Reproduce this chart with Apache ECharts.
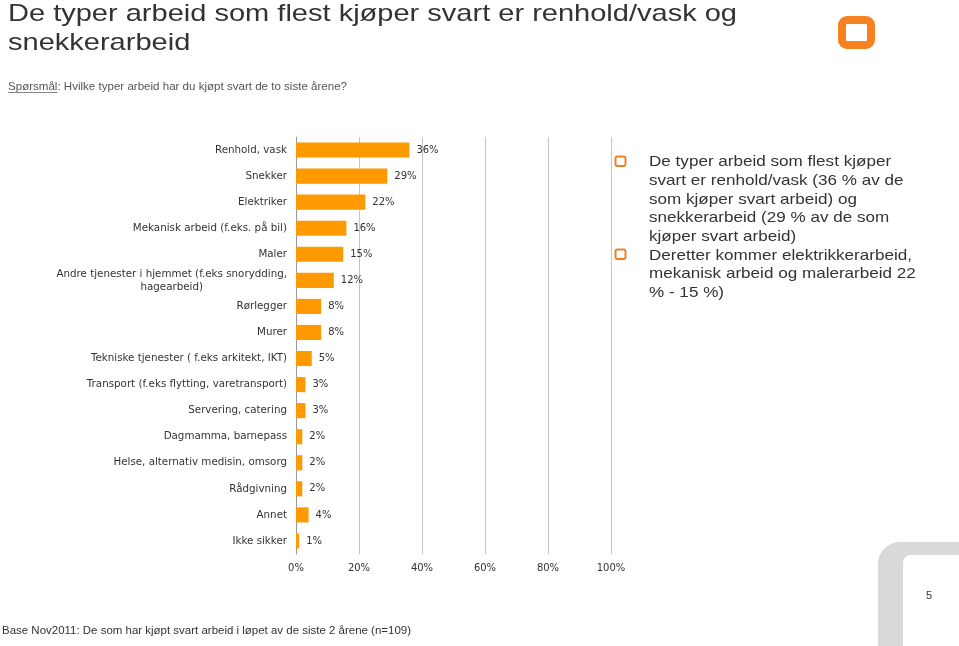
<!DOCTYPE html>
<html>
<head>
<meta charset="utf-8">
<script src="https://cdn.jsdelivr.net/npm/echarts@6/dist/echarts.min.js"></script>
<style>
html,body{margin:0;padding:0;background:#fff;}
#c{width:959px;height:646px;}
</style>
</head>
<body>
<div id="c"></div>
<script>
const categories = [
  "Renhold, vask",
  "Snekker",
  "Elektriker",
  "Mekanisk arbeid (f.eks. på bil)",
  "Maler",
  "Andre tjenester i hjemmet (f.eks snorydding,\nhagearbeid)",
  "Rørlegger",
  "Murer",
  "Tekniske tjenester ( f.eks arkitekt, IKT)",
  "Transport (f.eks flytting, varetransport)",
  "Servering, catering",
  "Dagmamma, barnepass",
  "Helse, alternativ medisin, omsorg",
  "Rådgivning",
  "Annet",
  "Ikke sikker"
];
const values = [36, 29, 22, 16, 15, 12, 8, 8, 5, 3, 3, 2, 2, 2, 4, 1];
const xTicks = [0, 20, 40, 60, 80, 100];

const titleLines = [
  "De typer arbeid som flest kjøper svart er renhold/vask og",
  "snekkerarbeid"
];
const subtitleLabel = "Spørsmål";
const subtitleText = ": Hvilke typer arbeid har du kjøpt svart de to siste årene?";
const bulletLines = [
  "De typer arbeid som flest kjøper",
  "svart er renhold/vask (36 % av de",
  "som kjøper svart arbeid) og",
  "snekkerarbeid (29 % av de som",
  "kjøper svart arbeid)",
  "Deretter kommer elektrikkerarbeid,",
  "mekanisk arbeid og malerarbeid 22",
  "% - 15 %)"
];
const footer = "Base Nov2011: De som har kjøpt svart arbeid i løpet av de siste 2 årene (n=109)";
const pageNo = "5";

const chart = echarts.init(document.getElementById('c'), null, {renderer: 'canvas'});
const axisFont = 'Tahoma, "DejaVu Sans", Verdana, sans-serif';
const textFamily = '"Liberation Sans", Arial, Helvetica, sans-serif';

const mctx = document.createElement('canvas').getContext('2d');
function measure(text, size) {
  mctx.font = size + 'px ' + textFamily;
  return mctx.measureText(text).width;
}
// horizontal stretch so that wide-tracked source text keeps its width
function fitScale(text, size, target) { return target / measure(text, size); }

function txt(x, baseline, text, size, color, sx) {
  return {type: 'text', x: x, y: baseline - 0.86 * size, scaleX: sx || 1,
    style: {text: text, fontSize: size, fontFamily: textFamily, fill: color,
      textVerticalAlign: 'top', textAlign: 'left'}};
}

const graphics = [];
const tS = fitScale(titleLines[0], 24, 729);
titleLines.forEach((t, i) => graphics.push(txt(8, 23 + i * 29, t, 24, '#333', tS)));

const subFull = subtitleLabel + subtitleText;
const sS = fitScale(subFull, 11, 339);
graphics.push(txt(8, 91, subFull, 11, '#555', sS));
const ulW = measure(subtitleLabel, 11) * sS;
graphics.push({type: 'line', shape: {x1: 8, y1: 92.5, x2: 8 + ulW, y2: 92.5}, style: {stroke: '#888', lineWidth: 1}});

const bS = fitScale(bulletLines[5], 15, 263);
bulletLines.forEach((t, i) => graphics.push(txt(649, 167.5 + i * 18.7, t, 15, '#333', bS)));
[156, 249].forEach(y => {
  graphics.push({type: 'rect', shape: {x: 615.5, y: y + 0.5, width: 10, height: 9.5, r: 2},
    style: {fill: 'none', stroke: '#E8832A', lineWidth: 2}});
});
// logo
graphics.push({type: 'rect', shape: {x: 842, y: 20, width: 29, height: 25, r: 5},
  style: {fill: 'none', stroke: '#F5821F', lineWidth: 8, lineJoin: 'round'}});
// bottom-right corner shape
graphics.push({type: 'rect', shape: {x: 878, y: 542, width: 90, height: 120, r: [22, 0, 0, 0]},
  style: {fill: '#D9D9D9'}});
graphics.push({type: 'rect', shape: {x: 903, y: 555, width: 70, height: 100, r: [8, 0, 0, 0]},
  style: {fill: '#fff'}});
graphics.push(txt(926, 600, pageNo, 11, '#333', 1));
const fS = fitScale(footer, 11, 409);
graphics.push(txt(2, 635, footer, 11, '#333', fS));

chart.setOption({
  animation: false,
  backgroundColor: '#fff',
  grid: {left: 296, right: 348, top: 137, bottom: 92, containLabel: false},
  xAxis: {
    type: 'value', min: 0, max: 100, interval: 20,
    axisLine: {show: false},
    axisTick: {show: false},
    splitLine: {show: true, lineStyle: {color: '#C4C4C4', width: 1}},
    axisLabel: {formatter: v => xTicks.includes(v) ? v + '%' : '', color: '#333',
      fontFamily: axisFont, fontSize: 10, margin: 9}
  },
  yAxis: {
    type: 'category', data: categories, inverse: true,
    axisLine: {show: true, lineStyle: {color: '#999', width: 1}},
    axisTick: {show: false},
    axisLabel: {
      color: '#333', fontFamily: axisFont, fontSize: 10.3, margin: 9,
      formatter: v => v.split('\n').map(s => '{c|' + s + '}').join('\n'),
      rich: {c: {align: 'center', color: '#333', fontFamily: axisFont, fontSize: 10.3, lineHeight: 13}}
    }
  },
  series: [{
    type: 'bar', data: values, barCategoryGap: '42%',
    itemStyle: {color: '#FF9900'},
    label: {show: true, position: 'right', distance: 7, formatter: p => p.value + '%',
      color: '#333', fontFamily: axisFont, fontSize: 10}
  }],
  graphic: graphics
});
</script>
</body>
</html>
